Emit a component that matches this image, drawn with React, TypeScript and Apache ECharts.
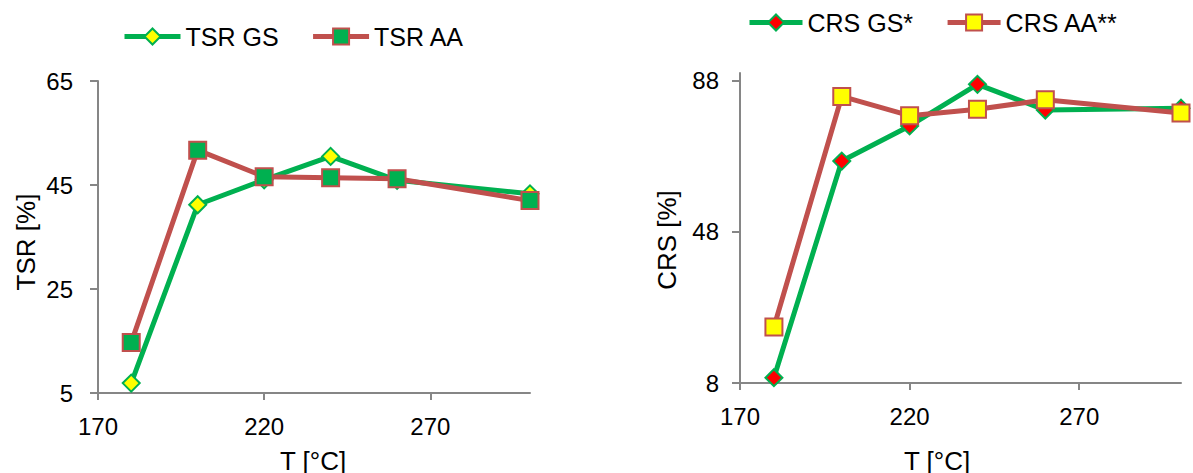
import React, { useEffect, useRef } from "react";
import * as echarts from "echarts";

// Reaction temperature (°C)
const temperatures = [180, 200, 220, 240, 260, 300];

// Total sugar recovery [%]
const tsrGS = [6.9, 41.2, 46.0, 50.5, 45.9, 43.3];
const tsrAA = [14.7, 51.7, 46.6, 46.4, 46.2, 42.0];

// Cellulose recovery [%]
const crsGS = [9.4, 66.7, 76.0, 87.0, 80.2, 80.7];
const crsAA = [22.8, 83.8, 78.7, 80.4, 82.9, 79.4];

const xTicks = [170, 220, 270];
const tsrTicks = [5, 25, 45, 65];
const crsTicks = [8, 48, 88];

const GREEN = "#00B050";
const BROWN = "#C0504D";
const YELLOW = "#FFFF00";
const RED = "#FF0000";
const AXIS_GREY = "#868686";
const FONT = "'Liberation Sans', Arial, sans-serif";

const pairs = (ys: number[]) => temperatures.map((t, i) => [t, ys[i]]);

const xAxisBase = (gridIndex: number) => ({
  type: "value" as const,
  gridIndex,
  min: 170,
  max: 300,
  interval: 10,
  axisLine: { show: true, lineStyle: { color: AXIS_GREY, width: 2 } },
  axisTick: { show: true, length: 7, customValues: xTicks, lineStyle: { color: AXIS_GREY, width: 2 } },
  axisLabel: { customValues: xTicks, margin: 21, fontSize: 24, color: "#000", fontFamily: FONT },
  splitLine: { show: false },
});

const yAxisBase = (gridIndex: number, min: number, max: number, ticks: number[], margin: number) => ({
  type: "value" as const,
  gridIndex,
  min,
  max,
  axisLine: { show: true, lineStyle: { color: AXIS_GREY, width: 2 } },
  axisTick: { show: true, length: 8, customValues: ticks, lineStyle: { color: AXIS_GREY, width: 2 } },
  axisLabel: { customValues: ticks, margin, fontSize: 24, color: "#000", fontFamily: FONT },
  splitLine: { show: false },
});

const lineSeries = (
  name: string,
  xi: number,
  ys: number[],
  symbol: string,
  lineColor: string,
  fill: string,
  border: string,
  z: number
) => ({
  type: "line" as const,
  name,
  xAxisIndex: xi,
  yAxisIndex: xi,
  data: pairs(ys),
  symbol,
  symbolSize: 17,
  showAllSymbol: true,
  z,
  lineStyle: { color: lineColor, width: 5 },
  itemStyle: { color: fill, borderColor: border, borderWidth: 2 },
});

const axisTitle = (text: string, x: number, y: number, rotated: boolean) => ({
  type: "text" as const,
  x,
  y,
  rotation: rotated ? Math.PI / 2 : 0,
  style: {
    text,
    x: 0,
    y: 0,
    fill: "#000",
    font: `26px ${FONT}`,
    align: "center",
    verticalAlign: "middle",
    textAlign: "center",
    textVerticalAlign: "middle",
  },
});

export default function App() {
  const ref = useRef<HTMLDivElement>(null);

  useEffect(() => {
    if (!ref.current) return;
    const chart = echarts.init(ref.current, undefined, { renderer: "svg" });
    chart.setOption({
      animation: false,
      backgroundColor: "#fff",
      grid: [
        { left: 98, top: 81, width: 432, height: 312 },
        { left: 740, top: 73, width: 441, height: 310 },
      ],
      xAxis: [xAxisBase(0), xAxisBase(1)],
      yAxis: [yAxisBase(0, 5, 65, tsrTicks, 25), yAxisBase(1, 8, 90, crsTicks, 21)],
      legend: [
        {
          data: ["TSR GS", "TSR AA"],
          left: 122,
          top: 24,
          padding: 0,
          itemWidth: 56,
          itemHeight: 20,
          itemGap: 32,
          lineStyle: { width: 5 },
          textStyle: { fontSize: 25, color: "#000", fontFamily: FONT },
        },
        {
          data: ["CRS GS*", "CRS AA**"],
          left: 747,
          top: 10,
          padding: 0,
          itemWidth: 53,
          itemHeight: 20,
          itemGap: 32,
          lineStyle: { width: 5 },
          textStyle: { fontSize: 25, color: "#000", fontFamily: FONT },
        },
      ],
      series: [
        lineSeries("TSR GS", 0, tsrGS, "diamond", GREEN, YELLOW, GREEN, 2),
        lineSeries("TSR AA", 0, tsrAA, "rect", BROWN, GREEN, BROWN, 3),
        lineSeries("CRS GS*", 1, crsGS, "diamond", GREEN, RED, GREEN, 2),
        lineSeries("CRS AA**", 1, crsAA, "rect", BROWN, YELLOW, BROWN, 3),
      ],
      graphic: [
        axisTitle("T [°C]", 313, 461, false),
        axisTitle("T [°C]", 937, 461, false),
        axisTitle("TSR [%]", 26, 242, true),
        axisTitle("CRS [%]", 667, 240, true),
      ],
    });
    return () => chart.dispose();
  }, []);

  return (
    <div
      ref={ref}
      style={{ position: "absolute", left: 0, top: 0, width: 1193, height: 473, background: "#fff" }}
    />
  );
}
